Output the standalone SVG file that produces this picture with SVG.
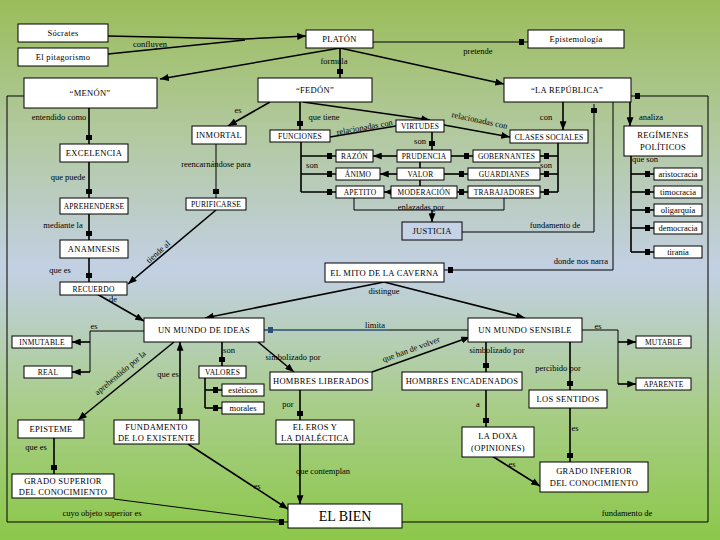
<svg xmlns="http://www.w3.org/2000/svg" width="720" height="540" viewBox="0 0 720 540">
<defs>
<linearGradient id="bg" x1="0" y1="0" x2="0" y2="1">
<stop offset="0" stop-color="#9bbd5a"/>
<stop offset="0.25" stop-color="#b2c9a0"/>
<stop offset="0.5" stop-color="#c3d0e4"/>
<stop offset="0.75" stop-color="#a9cd8a"/>
<stop offset="1" stop-color="#8cc84a"/>
</linearGradient>
<marker id="arr" viewBox="0 0 10 8" refX="10" refY="4" markerWidth="9" markerHeight="7" markerUnits="userSpaceOnUse" orient="auto"><path d="M0,0 L10,4 L0,8 z" fill="#000"/></marker>
<marker id="sq" viewBox="0 0 14 6" refX="14" refY="3" markerWidth="14" markerHeight="6" markerUnits="userSpaceOnUse" orient="auto"><rect x="5" y="0" width="5" height="6" fill="#000"/></marker>
<marker id="sqb" viewBox="0 0 14 6" refX="14" refY="3" markerWidth="14" markerHeight="6" markerUnits="userSpaceOnUse" orient="auto"><rect x="5" y="0" width="5" height="6" fill="#2d4f73"/></marker>
</defs>
<style>
.b{fill:#fff;stroke:#000;stroke-width:1}
.t{font-family:"Liberation Serif",serif;font-size:8.5px;text-anchor:middle;letter-spacing:0.3px}
.ts{font-family:"Liberation Serif",serif;font-size:7.5px;text-anchor:middle;letter-spacing:0.2px}
.l{font-family:"Liberation Serif",serif;font-size:8.5px;text-anchor:middle}
.c{fill:none;stroke:#000;stroke-width:1.6}
.f{fill:none;stroke:#000;stroke-width:1}
.a{marker-end:url(#arr)}
.s{marker-end:url(#sq)}
</style>
<rect x="0" y="0" width="720" height="540" fill="url(#bg)"/>

<g id="connectors">
<path class="c" d="M108,36 L245,39"/>
<path class="c" d="M108,54 L245,40"/>
<path class="c a" d="M245,39 L306,36"/>
<path class="f s" d="M373,42 H528"/>
<path class="c a" d="M340,48 L160,79"/>
<path class="c s" d="M340,48 V78"/>
<path class="c a" d="M340,48 L504,84"/>
<path class="f s" d="M24,96 H7 V522 H288"/>
<path class="f s" d="M402,522 H708 V96 H631"/>
<path class="f s" d="M613,102 V270 H444"/>
<path class="f s" d="M462,232 H594 V104"/>
<path class="c a" d="M563,102 V130"/>
<path class="c a" d="M630,102 V126"/>
<path class="c" d="M631,156 V252"/>
<path class="c s" d="M631,174 H654"/>
<path class="c s" d="M631,192 H654"/>
<path class="c s" d="M631,210 H654"/>
<path class="c s" d="M631,228 H654"/>
<path class="c s" d="M631,252 H654"/>
<path class="c" d="M558,143 V192"/>
<path class="c s" d="M558,156 H540"/>
<path class="c s" d="M558,174 H540"/>
<path class="c s" d="M558,192 H540"/>
<path class="c" d="M301,142 V192"/>
<path class="c s" d="M301,156 H336"/>
<path class="c s" d="M301,174 H336"/>
<path class="c s" d="M301,192 H336"/>
<path class="c s" d="M432,132 V150"/>
<path class="c" d="M420,162 V168"/>
<path class="c" d="M420,180 V186"/>
<path class="c a" d="M397,156 H373"/>
<path class="c a" d="M397,174 H380"/>
<path class="c a" d="M391,192 H384"/>
<path class="c s" d="M451,156 H473"/>
<path class="c s" d="M444,174 H468"/>
<path class="c s" d="M457,192 H468"/>
<path class="f" d="M354,198 V210 H504 V198"/>
<path class="c a" d="M432,210 V222"/>
<path class="c a" d="M270,102 L228,126"/>
<path class="c s" d="M300,102 V130"/>
<path class="c a" d="M303,102 L430,120"/>
<path class="c" d="M330,137 L396,126"/>
<path class="c a" d="M444,125 L510,137"/>
<path class="f s" d="M216,144 V198"/>
<path class="c a" d="M216,210 L128,284"/>
<path class="c s" d="M89,108 V144"/>
<path class="c s" d="M89,162 V198"/>
<path class="c s" d="M89,214 V240"/>
<path class="c s" d="M89,258 V282"/>
<path class="c a" d="M97,294 L144,321"/>
<path class="c a" d="M384,282 L205,318"/>
<path class="c a" d="M384,282 L525,318"/>
<path class="f" d="M144,331 H90 V372"/>
<path class="c a" d="M90,342 H72"/>
<path class="c a" d="M90,372 H72"/>
<path class="c s" d="M222,342 V366"/>
<path class="c" d="M205,378 V408"/>
<path class="c s" d="M205,390 H222"/>
<path class="c s" d="M205,408 H222"/>
<path class="f" d="M468,330 H390"/>
<path fill="none" stroke="#2d4f73" stroke-width="1.6" marker-end="url(#sqb)" d="M390,330 H264"/>
<path class="c a" d="M258,342 L294,372"/>
<path class="c a" d="M372,372 L470,337"/>
<path class="c a" d="M180,420 V342"/>
<rect x="177.5" y="408" width="5" height="6" fill="#000"/>
<path class="c a" d="M174,342 L78,420"/>
<path class="c s" d="M300,390 V420"/>
<path class="c a" d="M300,444 V504"/>
<path class="c a" d="M188,444 L288,509"/>
<path class="c s" d="M54,438 V474"/>
<path class="f" d="M114,499 L284,521"/>
<path class="f" d="M582,330 H618 V384"/>
<path class="c a" d="M618,342 H636"/>
<path class="c a" d="M618,384 H636"/>
<path class="c s" d="M486,342 V372"/>
<path class="c s" d="M570,342 V390"/>
<path class="c s" d="M486,390 V427"/>
<path class="c s" d="M570,408 V462"/>
<path class="c a" d="M492,456 L540,486"/>
</g>

<g id="labels">
<text class="l" x="150" y="47">confluyen</text>
<text class="l" x="478" y="54">pretende</text>
<text class="l" x="334" y="64">formula</text>
<text class="l" x="59" y="120">entendido como</text>
<text class="l" x="238" y="113">es</text>
<text class="l" x="324" y="120">que tiene</text>
<text class="l" transform="translate(365,130) rotate(-10)">relacionadas con</text>
<text class="l" transform="translate(479,123) rotate(12)">relacionadas con</text>
<text class="l" x="546" y="120">con</text>
<text class="l" x="651" y="120">analiza</text>
<text class="l" x="216" y="167">reencarnándose para</text>
<text class="l" x="420" y="144">son</text>
<text class="l" x="312" y="168">son</text>
<text class="l" x="546" y="168">son</text>
<text class="l" x="645" y="162">que son</text>
<text class="l" x="68" y="180">que puede</text>
<text class="l" x="421" y="210">enlazadas por</text>
<text class="l" x="63" y="228">mediante la</text>
<text class="l" x="555" y="228">fundamento de</text>
<text class="l" transform="translate(160,254) rotate(-42)">tiende al</text>
<text class="l" x="581" y="264">donde nos narra</text>
<text class="l" x="60" y="273">que es</text>
<text class="l" x="384" y="294">distingue</text>
<text class="l" x="113" y="302">de</text>
<text class="l" x="94" y="329">es</text>
<text class="l" x="375" y="328">limita</text>
<text class="l" x="598" y="329">es</text>
<text class="l" x="229" y="353">son</text>
<text class="l" x="293" y="360">simbolizado por</text>
<text class="l" transform="translate(412,352) rotate(-20)">que han de volver</text>
<text class="l" x="497" y="353">simbolizado por</text>
<text class="l" x="558" y="371">percibido por</text>
<text class="l" x="168" y="377">que es</text>
<text class="l" transform="translate(122,375) rotate(-40)">aprehendido por la</text>
<text class="l" x="288" y="407">por</text>
<text class="l" x="478" y="407">a</text>
<text class="l" x="575" y="431">es</text>
<text class="l" x="36" y="450">que es</text>
<text class="l" x="512" y="467">es</text>
<text class="l" x="323" y="474">que contemplan</text>
<text class="l" x="257" y="489">es</text>
<text class="l" x="102" y="516">cuyo objeto superior es</text>
<text class="l" x="627" y="516">fundamento de</text>
</g>

<g id="socrates"><rect class="b" x="18" y="24" width="90" height="18"/><text class="t" x="63" y="36">Sócrates</text></g>
<g id="pitagorismo"><rect class="b" x="18" y="48" width="90" height="18"/><text class="t" x="63" y="60">El pitagorismo</text></g>
<g id="platon"><rect class="b" x="306" y="30" width="67" height="18"/><text class="t" x="339.5" y="42">PLATÓN</text></g>
<g id="epistemologia"><rect class="b" x="528" y="30" width="96" height="18"/><text class="t" x="576" y="42">Epistemología</text></g>
<g id="menon"><rect class="b" x="24" y="78" width="133" height="30"/><text class="t" x="90" y="96">“MENÓN”</text></g>
<g id="fedon"><rect class="b" x="258" y="78" width="114" height="24"/><text class="t" x="315" y="93">“FEDÓN”</text></g>
<g id="republica"><rect class="b" x="504" y="78" width="127" height="24"/><text class="t" x="567" y="93">“LA REPÚBLICA”</text></g>
<g id="inmortal"><rect class="b" x="192" y="126" width="54" height="18"/><text class="t" x="219" y="138">INMORTAL</text></g>
<g id="funciones"><rect class="b" x="270" y="130" width="60" height="12"/><text class="ts" x="300" y="139">FUNCIONES</text></g>
<g id="virtudes"><rect class="b" x="396" y="120" width="48" height="12"/><text class="ts" x="420" y="129">VIRTUDES</text></g>
<g id="clases"><rect class="b" x="510" y="130" width="78" height="13"/><text class="ts" x="549" y="139.5">CLASES SOCIALES</text></g>
<g id="regimenes"><rect class="b" x="624" y="126" width="78" height="30"/><text class="t" x="663" y="138">REGÍMENES</text><text class="t" x="663" y="150">POLÍTICOS</text></g>
<g id="excelencia"><rect class="b" x="60" y="144" width="68" height="18"/><text class="t" x="94" y="156">EXCELENCIA</text></g>
<g id="razon"><rect class="b" x="336" y="150" width="37" height="12"/><text class="ts" x="354.5" y="159">RAZÓN</text></g>
<g id="prudencia"><rect class="b" x="397" y="150" width="54" height="12"/><text class="ts" x="424" y="159">PRUDENCIA</text></g>
<g id="gobernantes"><rect class="b" x="473" y="150" width="67" height="12"/><text class="ts" x="506.5" y="159">GOBERNANTES</text></g>
<g id="animo"><rect class="b" x="336" y="168" width="44" height="12"/><text class="ts" x="358" y="177">ÁNIMO</text></g>
<g id="valor"><rect class="b" x="397" y="168" width="47" height="12"/><text class="ts" x="420.5" y="177">VALOR</text></g>
<g id="guardianes"><rect class="b" x="468" y="168" width="72" height="12"/><text class="ts" x="504" y="177">GUARDIANES</text></g>
<g id="apetito"><rect class="b" x="336" y="186" width="48" height="12"/><text class="ts" x="360" y="195">APETITO</text></g>
<g id="moderacion"><rect class="b" x="391" y="186" width="66" height="12"/><text class="ts" x="424" y="195">MODERACIÓN</text></g>
<g id="trabajadores"><rect class="b" x="468" y="186" width="72" height="12"/><text class="ts" x="504" y="195">TRABAJADORES</text></g>
<g id="aristocracia"><rect class="b" x="654" y="168" width="48" height="12"/><text class="l" x="678" y="177">aristocracia</text></g>
<g id="timocracia"><rect class="b" x="654" y="186" width="48" height="12"/><text class="l" x="678" y="195">timocracia</text></g>
<g id="oligarquia"><rect class="b" x="654" y="204" width="48" height="12"/><text class="l" x="678" y="213">oligarquía</text></g>
<g id="democracia"><rect class="b" x="654" y="222" width="48" height="12"/><text class="l" x="678" y="231">democracia</text></g>
<g id="tirania"><rect class="b" x="654" y="246" width="48" height="12"/><text class="l" x="678" y="255">tiranía</text></g>
<g id="aprehenderse"><rect class="b" x="60" y="198" width="68" height="16"/><text class="ts" x="94" y="209">APREHENDERSE</text></g>
<g id="purificarse"><rect class="b" x="186" y="198" width="60" height="12"/><text class="ts" x="216" y="207">PURIFICARSE</text></g>
<g id="justicia"><rect x="402" y="222" width="60" height="18" fill="#c6d3e6" stroke="#000" stroke-width="1"/><text class="t" x="432" y="234">JUSTICIA</text></g>
<g id="anamnesis"><rect class="b" x="60" y="240" width="68" height="18"/><text class="t" x="94" y="252">ANAMNESIS</text></g>
<g id="mito"><rect class="b" x="325" y="263" width="119" height="19"/><text class="t" x="384.5" y="276">EL MITO DE LA CAVERNA</text></g>
<g id="recuerdo"><rect class="b" x="60" y="282" width="67" height="13"/><text class="ts" x="93.5" y="291.5">RECUERDO</text></g>
<g id="mundo-ideas"><rect class="b" x="144" y="318" width="120" height="24"/><text class="t" x="204" y="333">UN MUNDO DE IDEAS</text></g>
<g id="mundo-sensible"><rect class="b" x="468" y="318" width="114" height="24"/><text class="t" x="525" y="333">UN MUNDO SENSIBLE</text></g>
<g id="inmutable"><rect class="b" x="12" y="336" width="60" height="12"/><text class="ts" x="42" y="345">INMUTABLE</text></g>
<g id="mutable"><rect class="b" x="636" y="336" width="55" height="12"/><text class="ts" x="663.5" y="345">MUTABLE</text></g>
<g id="real"><rect class="b" x="24" y="366" width="48" height="12"/><text class="ts" x="48" y="375">REAL</text></g>
<g id="valores"><rect class="b" x="199" y="366" width="47" height="12"/><text class="ts" x="222.5" y="375">VALORES</text></g>
<g id="liberados"><rect class="b" x="270" y="372" width="102" height="18"/><text class="t" x="321" y="384">HOMBRES LIBERADOS</text></g>
<g id="encadenados"><rect class="b" x="402" y="372" width="120" height="18"/><text class="t" x="462" y="384">HOMBRES ENCADENADOS</text></g>
<g id="aparente"><rect class="b" x="636" y="378" width="55" height="12"/><text class="ts" x="663.5" y="387">APARENTE</text></g>
<g id="esteticos"><rect class="b" x="222" y="384" width="42" height="12"/><text class="l" x="243" y="393">estéticos</text></g>
<g id="morales"><rect class="b" x="222" y="402" width="42" height="12"/><text class="l" x="243" y="411">morales</text></g>
<g id="sentidos"><rect class="b" x="529" y="390" width="78" height="18"/><text class="t" x="568" y="402">LOS SENTIDOS</text></g>
<g id="episteme"><rect class="b" x="18" y="420" width="66" height="18"/><text class="t" x="51" y="432">EPISTEME</text></g>
<g id="fundamento"><rect class="b" x="114" y="420" width="85" height="24"/><text class="t" x="156.5" y="430">FUNDAMENTO</text><text class="t" x="156.5" y="441">DE LO EXISTENTE</text></g>
<g id="eros"><rect class="b" x="276" y="420" width="78" height="24"/><text class="t" x="315" y="430">EL EROS Y</text><text class="t" x="315" y="441">LA DIALÉCTICA</text></g>
<g id="doxa"><rect class="b" x="462" y="427" width="72" height="30"/><text class="t" x="498" y="439">LA DOXA</text><text class="t" x="498" y="451">(OPINIONES)</text></g>
<g id="grado-superior"><rect class="b" x="12" y="474" width="102" height="24"/><text class="t" x="63" y="484">GRADO SUPERIOR</text><text class="t" x="63" y="495">DEL CONOCIMIENTO</text></g>
<g id="bien"><rect class="b" x="288" y="504" width="114" height="24"/><text x="345" y="521" font-family="Liberation Serif, serif" font-size="14" text-anchor="middle">EL BIEN</text></g>
<g id="grado-inferior"><rect class="b" x="540" y="462" width="108" height="30"/><text class="t" x="594" y="474">GRADO INFERIOR</text><text class="t" x="594" y="486">DEL CONOCIMIENTO</text></g>
</svg>
